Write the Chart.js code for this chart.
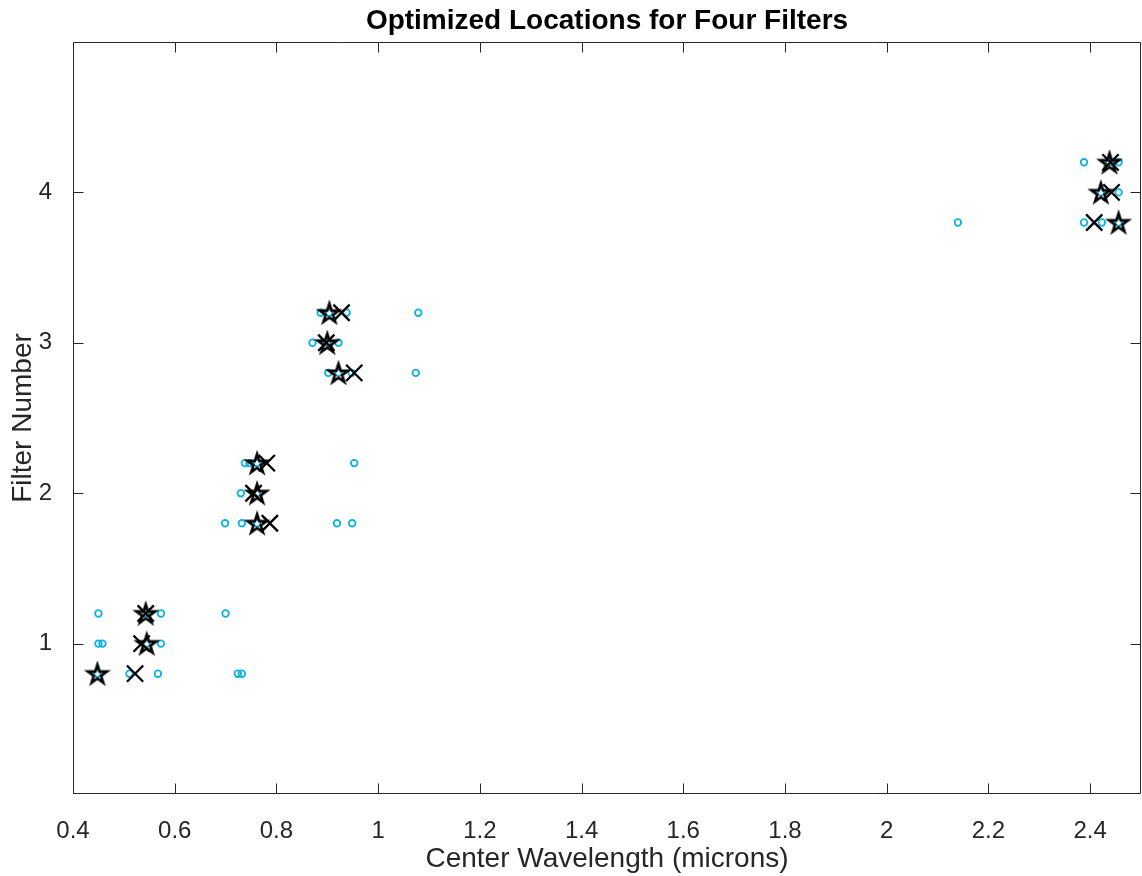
<!DOCTYPE html>
<html>
<head>
<meta charset="utf-8">
<script src="https://cdn.jsdelivr.net/npm/chart.js@4.4.1/dist/chart.umd.min.js"></script>
<style>
    body { margin: 0; background: #fff; }
    canvas { display: block; }
</style>
</head>
<body>
<canvas id="filtros" width="1142" height="876"></canvas>
<script>
// ========== DATOS ==========
// tres filas por filtro (k-0.2, k, k+0.2)
const rowLevels = [0.8, 1, 1.2, 1.8, 2, 2.2, 2.8, 3, 3.2, 3.8, 4, 4.2];
// puntos de inicio / soluciones locales (circulos cian)
const trialX = [
    [0.448, 0.511, 0.567, 0.724, 0.732],
    [0.450, 0.458, 0.545, 0.573],
    [0.450, 0.543, 0.573, 0.700],
    [0.699, 0.732, 0.762, 0.919, 0.949],
    [0.730, 0.762],
    [0.738, 0.747, 0.762, 0.953],
    [0.902, 0.922, 0.948, 1.074],
    [0.871, 0.900, 0.922],
    [0.887, 0.904, 0.938, 1.079],
    [2.140, 2.388, 2.423, 2.456],
    [2.421, 2.456],
    [2.388, 2.438, 2.456],
];
// marcas X
const crossX = [0.522, 0.535, 0.543, 0.787, 0.755, 0.781, 0.953, 0.898, 0.928, 2.408, 2.442, 2.440];
// estrellas (mejor solucion)
const starX = [0.448, 0.545, 0.543, 0.762, 0.762, 0.762, 0.922, 0.900, 0.904, 2.456, 2.421, 2.438];

const xTickVals = [0.4, 0.6, 0.8, 1, 1.2, 1.4, 1.6, 1.8, 2, 2.2, 2.4];
const yTickVals = [1, 2, 3, 4];

const TITLE = "Optimized Locations for Four Filters";
const FONT = '"Liberation Sans", Arial, Helvetica, sans-serif';
const AXIS_COLOR = "#262626";
const CYAN = "#0bb2e4";

// ========== MARCADOR ESTRELLA (pentagrama) ==========
function makeStar(R, lw) {
    const size = Math.ceil(2 * (R + lw + 1));
    const c = document.createElement("canvas");
    c.width = size;
    c.height = size;
    const g = c.getContext("2d");
    const cx = size / 2, cy = size / 2 + 1;
    const r = R * 0.382;
    g.beginPath();
    for (let i = 0; i < 10; i++) {
        const ang = -Math.PI / 2 + i * Math.PI / 5;
        const rad = i % 2 === 0 ? R : r;
        const px = cx + rad * Math.cos(ang);
        const py = cy + rad * Math.sin(ang);
        if (i === 0) g.moveTo(px, py); else g.lineTo(px, py);
    }
    g.closePath();
    g.lineWidth = lw;
    g.lineJoin = "miter";
    g.strokeStyle = "#000";
    g.stroke();
    return c;
}
const starImg = makeStar(10, 2.6);

// ========== PUNTOS ==========
const trialPts = [];
rowLevels.forEach((lv, i) => {
    trialX[i].forEach((v) => trialPts.push({ x: v, y: lv }));
});
const crossPts = rowLevels.map((lv, i) => ({ x: crossX[i], y: lv }));
const starPts = rowLevels.map((lv, i) => ({ x: starX[i], y: lv }));

// ========== MARCO CON TICKS HACIA DENTRO + TITULO ==========
const framePlugin = {
    id: "frame",
    beforeDatasetsDraw(chart) {
        const { ctx, chartArea: a, scales: { x, y } } = chart;
        const L = Math.round(a.left) + 0.5, R = Math.round(a.right) - 0.5;
        const T = Math.round(a.top) + 0.5, B = Math.round(a.bottom) - 0.5;
        const tl = 10;
        ctx.save();
        ctx.strokeStyle = AXIS_COLOR;
        ctx.lineWidth = 1;
        ctx.beginPath();
        ctx.rect(L, T, R - L, B - T);
        xTickVals.forEach((v) => {
            const px = Math.round(x.getPixelForValue(v)) + 0.5;
            ctx.moveTo(px, B); ctx.lineTo(px, B - tl);
            ctx.moveTo(px, T); ctx.lineTo(px, T + tl);
        });
        yTickVals.forEach((v) => {
            const py = Math.round(y.getPixelForValue(v)) + 0.5;
            ctx.moveTo(L, py); ctx.lineTo(L + tl, py);
            ctx.moveTo(R, py); ctx.lineTo(R - tl, py);
        });
        ctx.stroke();

        // titulo centrado sobre el area de los ejes
        ctx.fillStyle = "#000";
        ctx.font = `bold 28px ${FONT}`;
        ctx.textAlign = "center";
        ctx.textBaseline = "middle";
        ctx.fillText(TITLE, (a.left + a.right) / 2, 21);
        ctx.restore();
    },
};

// ========== GRAFICO ==========
const ctx = document.getElementById("filtros").getContext("2d");
new Chart(ctx, {
    type: "scatter",
    data: {
        datasets: [
            {
                label: "Mejor",
                data: starPts,
                pointStyle: starImg,
                pointRadius: 10,
                order: 1,
                clip: false,
            },
            {
                label: "X",
                data: crossPts,
                pointStyle: "crossRot",
                pointRadius: 11.5,
                borderColor: "#000",
                borderWidth: 2.3,
                order: 2,
                clip: false,
            },
            {
                label: "Inicios",
                data: trialPts,
                pointStyle: "circle",
                pointRadius: 3.3,
                borderColor: CYAN,
                backgroundColor: "rgba(0,0,0,0)",
                borderWidth: 1.8,
                order: 3,
                clip: false,
            },
        ],
    },
    options: {
        responsive: false,
        animation: false,
        events: [],
        layout: {
            autoPadding: false,
            padding: { left: 0, right: 1, top: 42, bottom: 0 },
        },
        plugins: {
            legend: { display: false },
            tooltip: { enabled: false },
            title: { display: false },
        },
        scales: {
            x: {
                type: "linear",
                min: 0.4,
                max: 2.5,
                afterBuildTicks: (s) => { s.ticks = xTickVals.map((v) => ({ value: v })); },
                afterFit: (s) => {
                    s.height = 82;
                    s.paddingLeft = 0;
                    s.paddingRight = 0;
                },
                grid: { display: false },
                border: { display: false },
                ticks: {
                    color: AXIS_COLOR,
                    font: { family: FONT, size: 24 },
                    padding: 15,
                    maxRotation: 0,
                    callback: (v) => String(v),
                },
                title: {
                    display: true,
                    text: "Center Wavelength (microns)",
                    color: AXIS_COLOR,
                    font: { family: FONT, size: 28 },
                    padding: { top: 0, bottom: 0 },
                },
            },
            y: {
                type: "linear",
                min: 0,
                max: 5,
                afterBuildTicks: (s) => { s.ticks = yTickVals.map((v) => ({ value: v })); },
                afterFit: (s) => {
                    s.width = 73;
                    s.paddingTop = 0;
                    s.paddingBottom = 0;
                },
                grid: { display: false },
                border: { display: false },
                ticks: {
                    color: AXIS_COLOR,
                    font: { family: FONT, size: 24 },
                    padding: 13,
                    callback: (v) => String(v),
                },
                title: {
                    display: true,
                    text: "Filter Number",
                    color: AXIS_COLOR,
                    font: { family: FONT, size: 28 },
                    padding: { top: 6, bottom: 0 },
                },
            },
        },
    },
    plugins: [framePlugin],
});
</script>
</body>
</html>
